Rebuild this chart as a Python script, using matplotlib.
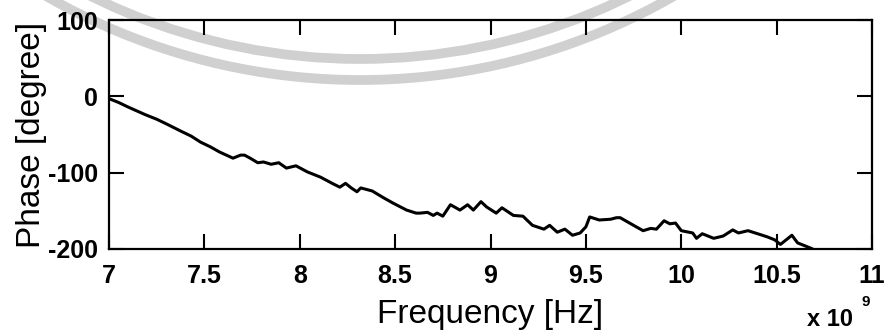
import numpy as np
import matplotlib
matplotlib.use('Agg')
import matplotlib.pyplot as plt
from matplotlib.patches import Arc

# Measured phase response, frequency in units of 1e9 Hz
freq_ghz = [7.01, 7.05, 7.10, 7.19, 7.25, 7.30, 7.38, 7.43, 7.48, 7.53,
            7.58, 7.65, 7.69, 7.71, 7.74, 7.78, 7.81, 7.85, 7.89, 7.93,
            7.98, 8.04, 8.11, 8.17, 8.21, 8.24, 8.27, 8.30, 8.32, 8.38,
            8.44, 8.49, 8.56, 8.61, 8.63, 8.67, 8.70, 8.72, 8.75, 8.79,
            8.84, 8.88, 8.91, 8.95, 8.98, 9.03, 9.06, 9.12, 9.17, 9.22,
            9.28, 9.31, 9.35, 9.39, 9.43, 9.47, 9.50, 9.52, 9.57, 9.63,
            9.66, 9.68, 9.75, 9.80, 9.84, 9.87, 9.91, 9.94, 9.97, 10.00,
            10.06, 10.08, 10.11, 10.17, 10.22, 10.27, 10.30, 10.35, 10.40, 10.45,
            10.49, 10.52, 10.55, 10.58, 10.61, 10.64, 10.68, 10.72]
phase_deg = [-4, -8, -14, -24, -30, -36, -46, -52, -60, -66,
             -73, -81, -77, -77, -81, -87, -86, -89, -87, -94,
             -91, -99, -106, -114, -119, -114, -120, -125, -120, -124,
             -133, -140, -149, -153, -153, -152, -156, -153, -157, -142,
             -149, -142, -149, -138, -145, -153, -146, -156, -157, -169,
             -174, -169, -178, -174, -182, -179, -171, -158, -162, -161,
             -159, -159, -169, -176, -173, -174, -163, -167, -166, -176,
             -179, -186, -180, -186, -183, -175, -179, -176, -180, -184,
             -188, -194, -188, -182, -192, -195, -199, -204]

xticks = [7, 7.5, 8, 8.5, 9, 9.5, 10, 10.5, 11]
xtick_labels = ['7', '7.5', '8', '8.5', '9', '9.5', '10', '10.5', '11']
yticks = [-200, -100, 0, 100]

plt.rcParams['font.family'] = ['Liberation Sans', 'DejaVu Sans']
plt.rcParams['axes.unicode_minus'] = False

fig = plt.figure(figsize=(8.88, 3.33), dpi=100)

# faint seal rings behind the plot
bg = fig.add_axes([0, 0, 1, 1], zorder=-1)
bg.set_xlim(0, 888)
bg.set_ylim(333, 0)
bg.axis('off')
for r in [608, 629]:
    bg.add_patch(Arc((360, -549), 2 * r, 2 * r, color='#d0d0d0', lw=7))

ax = fig.add_axes([109 / 888, 1 - 249 / 333, 763 / 888, 229 / 333])
ax.set_facecolor('none')
ax.plot(freq_ghz, phase_deg, color='black', lw=2.2)

ax.set_xlim(7, 11)
ax.set_ylim(-200, 100)
ax.set_xticks(xticks)
ax.set_xticklabels(xtick_labels)
ax.set_yticks(yticks)
ax.tick_params(direction='in', length=11, width=1.5, top=True, right=True,
               labelsize=18, pad=8)
ax.tick_params(axis='x', pad=11)
for lbl in ax.get_xticklabels() + ax.get_yticklabels():
    lbl.set_fontweight('bold')
for sp in ax.spines.values():
    sp.set_linewidth(1.6)

ax.set_xlabel('Frequency [Hz]', fontsize=24)
ax.set_ylabel('Phase [degree]', fontsize=24)
ax.xaxis.set_label_coords(0.5, -0.22)
ax.yaxis.set_label_coords(-0.081, 0.5)

fig.text(807 / 888, 1 - 326 / 333, 'x 10', fontsize=17, fontweight='bold',
         ha='left', va='baseline')
fig.text(861 / 888, 1 - 306 / 333, '9', fontsize=11, fontweight='bold',
         ha='left', va='baseline')

fig.savefig('out.png', dpi=100)
